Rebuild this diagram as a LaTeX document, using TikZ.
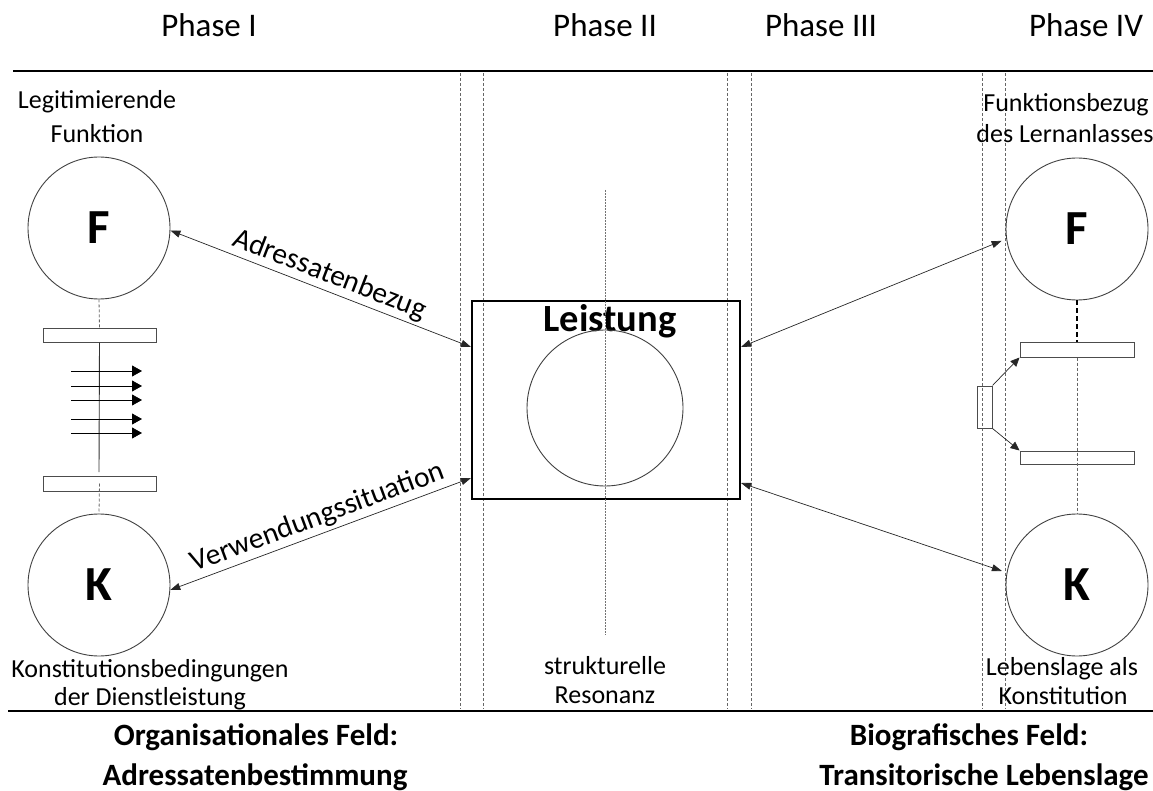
\documentclass[tikz,border=0pt]{standalone}
\usepackage{fontspec}
\setmainfont{Carlito}
\usetikzlibrary{arrows.meta}
\begin{document}
\begin{tikzpicture}[x=1pt,y=-1pt,
  circ/.style={circle, draw=black!75, line width=0.9pt, minimum size=142pt, inner sep=0pt, font=\fontsize{49}{49}\selectfont\bfseries},
  bar/.style={draw=black!70, line width=1pt, inner sep=0pt, minimum width=113pt},
  lbl/.style={font=\fontsize{26}{30}\selectfont, anchor=base, inner sep=0pt},
  phase/.style={font=\fontsize{33}{40}\selectfont, anchor=base, inner sep=0pt},
  field/.style={font=\fontsize{31}{40}\selectfont\bfseries, anchor=base, inner sep=0pt},
  sep/.style={draw=black!60, line width=0.8pt, dash pattern=on 3pt off 2pt},
  conn/.style={{Triangle[length=10pt,width=7pt]}-{Triangle[length=10pt,width=7pt]}, line width=0.7pt, draw=black!85},
  flow/.style={-{Triangle[length=10pt,width=11pt]}, line width=0.8pt},
  flowb/.style={-{Triangle[length=9pt,width=8pt]}, line width=0.7pt, draw=black!85},
  rulel/.style={line width=2.5pt},
  connlbl/.style={font=\fontsize{29.5}{30}\selectfont, sloped, above, inner sep=3pt}
]
\useasboundingbox (0,0) rectangle (1153,791);

% horizontal rules
\draw[rulel] (13,71) -- (1153,71);
\draw[rulel] (8,711) -- (1153,711);

% phase titles
\node[phase] (p1) at (209,37) {Phase I};
\node[phase] (p2) at (605,37) {Phase II};
\node[phase] (p3) at (821,37) {Phase III};
\node[phase] (p4) at (1086,37) {Phase IV};

% phase separators
\foreach \xx in {460,483,727,751,982,1005}
  \draw[sep] (\xx,73) -- (\xx,709);

% central box
\node[draw, line width=2pt, minimum width=268pt, minimum height=198pt, inner sep=0pt] (box) at (606,400) {};
\node[font=\fontsize{38.5}{40}\selectfont\bfseries, anchor=base, inner sep=0pt] (leist) at (610,331) {Leistung};
\node[circle, draw=black!75, line width=0.9pt, minimum size=156pt, inner sep=0pt] (res) at (605,408) {};
\draw[draw=black!55, line width=0.8pt, dash pattern=on 2pt off 1pt] (605,190) -- (605,635);

% left column
\node[circ] (Fl) at (99,228) {F};
\node[circ] (Kl) at (99,585) {K};
\node[bar, minimum height=13pt] (Lb1) at (99.5,335.5) {};
\node[bar, minimum height=15pt] (Lb2) at (99.5,483.5) {};
\coordinate (Lend) at (99,472);
\draw[sep] (Fl.south) -- (Lb1.north);
\draw[line width=0.9pt, draw=black!80] (Lb1.south) -- (Lend);
\draw[sep] (Lb2.center) -- (Kl.north);
\foreach \yy in {371,386,400,419,433}
  \draw[flow] (71,\yy) -- (142,\yy);

% right column
\node[circ] (Fr) at (1077,229) {F};
\node[circ] (Kr) at (1077,585) {K};
\node[bar, minimum width=114pt, minimum height=15pt] (Rb1) at (1077,349.5) {};
\node[bar, minimum width=114pt, minimum height=13pt] (Rb2) at (1077,457.5) {};
\node[draw=black!70, line width=1pt, inner sep=0pt, minimum width=15pt, minimum height=42pt] (Rs) at (984.5,407) {};
\draw[line width=1.3pt, dash pattern=on 5pt off 3pt] (Fr.south) -- (Rb1.north);
\draw[sep] (Rb1.south) -- (Kr.north);
\draw[flowb] (Rs.north east) -- (Rb1.south west);
\draw[flowb] (Rs.south east) -- (Rb2.north west);

% connectors
\coordinate (bl1) at (471,347);
\coordinate (bl2) at (471,478);
\coordinate (br1) at (741,347);
\coordinate (br2) at (741,483);
\draw[conn] (Fl.-2) -- node[connlbl, pos=0.51] {Adressatenbezug} (bl1);
\draw[conn] (Kl.-4) -- node[connlbl, pos=0.51] {Verwendungssituation} (bl2);
\draw[conn, shorten >=5pt] (br1) -- (Fr.188);
\draw[conn, shorten >=5pt] (br2) -- (Kr.170);

% labels
\node[lbl] (l1a) at (97,109) {Legitimierende};
\node[lbl] (l1b) at (97,143) {Funktion};
\node[lbl] (l2a) at (150,677) {Konstitutionsbedingungen};
\node[lbl] (l2b) at (150,705) {der Dienstleistung};
\node[lbl] (l3a) at (605,674) {strukturelle};
\node[lbl] (l3b) at (605,703) {Resonanz};
\node[lbl] (l4a) at (1066,112) {Funktionsbezug};
\node[lbl] (l4b) at (1065,143) {des Lernanlasses};
\node[lbl] (l5a) at (1062,675) {Lebenslage als};
\node[lbl] (l5b) at (1063,704) {Konstitution};

% field titles
\node[field] (f1a) at (256,745) {Organisationales Feld:};
\node[field] (f1b) at (255,785) {Adressatenbestimmung};
\node[field] (f2a) at (969,745) {Biografisches Feld:};
\node[field] (f2b) at (984,785) {Transitorische Lebenslage};
\end{tikzpicture}
\end{document}
